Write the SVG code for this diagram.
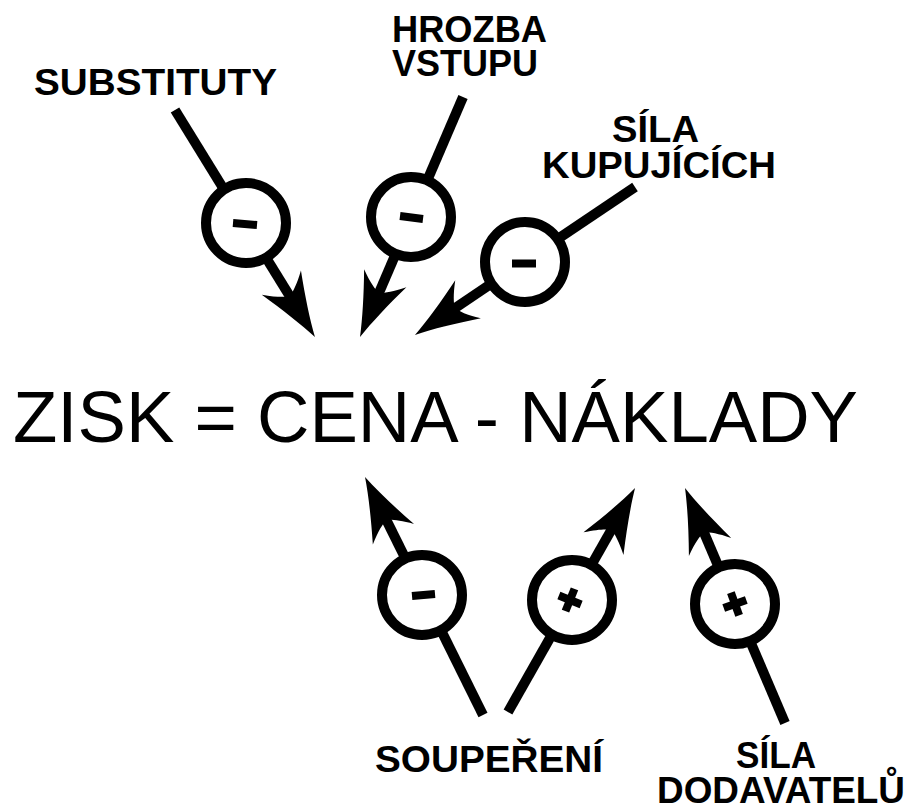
<svg xmlns="http://www.w3.org/2000/svg" width="907" height="810" viewBox="0 0 907 810">
  <style>
    .lbl { font-family: "Liberation Sans", Arial, sans-serif; font-weight: bold; font-size: 36px; fill: #000; }
    .main { font-family: "Liberation Sans", Arial, sans-serif; font-size: 72px; fill: #000; }
    .ring { fill: #fff; stroke: #000; stroke-width: 10; }
    .sign { stroke: #000; stroke-width: 8; stroke-linecap: butt; fill: none; }
    .edge { stroke: #000; stroke-width: 10; stroke-linecap: butt; fill: none; marker-end: url(#head); }
  </style>
  <defs>
    <!-- swept arrowhead: notch at x=0, tip at x=48 -->
    <marker id="head" markerUnits="userSpaceOnUse" orient="auto" refX="10" refY="0"
            markerWidth="80" markerHeight="60" viewBox="-20 -30 80 60" overflow="visible">
      <path d="M48,0 C30,5 8,13 -16,23 C-6,12 -2,5 0,0 C-2,-5 -6,-12 -16,-23 C8,-13 30,-5 48,0 Z" fill="#000"/>
    </marker>
  </defs>

  <rect width="907" height="810" fill="#fff"/>

  <!-- connectors: each runs from a label, through its circle, to the equation -->
  <g id="connectors">
    <line class="edge" x1="175" y1="110" x2="295" y2="304.7"/>
    <line class="edge" x1="463" y1="97" x2="375" y2="302.1"/>
    <line class="edge" x1="635" y1="187" x2="446.5" y2="313.8"/>
    <line class="edge" x1="483" y1="715" x2="381.9" y2="511"/>
    <line class="edge" x1="508" y1="712" x2="616.3" y2="521.1"/>
    <line class="edge" x1="785" y1="723" x2="699.9" y2="523"/>
  </g>

  <!-- central equation -->
  <g id="equation">
    <text class="main" x="13" y="442" textLength="845" lengthAdjust="spacingAndGlyphs">ZISK = CENA - NÁKLADY</text>
  </g>

  <!-- threat of substitutes -->
  <g id="substituty">
    <text class="lbl" x="34" y="95" textLength="243" lengthAdjust="spacingAndGlyphs">SUBSTITUTY</text>
    <circle class="ring" cx="246" cy="223" r="40"/>
    <line class="sign" x1="233" y1="223" x2="257" y2="225" />
  </g>

  <!-- threat of new entrants -->
  <g id="hrozba-vstupu">
    <text class="lbl" x="392" y="42" textLength="155" lengthAdjust="spacingAndGlyphs">HROZBA</text>
    <text class="lbl" x="392" y="76" textLength="146" lengthAdjust="spacingAndGlyphs">VSTUPU</text>
    <circle class="ring" cx="411" cy="217" r="40"/>
    <line class="sign" x1="400" y1="216" x2="423" y2="219" />
  </g>

  <!-- bargaining power of buyers -->
  <g id="sila-kupujicich">
    <text class="lbl" x="612" y="142" textLength="87" lengthAdjust="spacingAndGlyphs">SÍLA</text>
    <text class="lbl" x="542" y="178" textLength="234" lengthAdjust="spacingAndGlyphs">KUPUJÍCÍCH</text>
    <circle class="ring" cx="525" cy="262" r="40"/>
    <line class="sign" x1="512" y1="263.5" x2="536" y2="263.5" />
  </g>

  <!-- rivalry -->
  <g id="souperení">
    <text class="lbl" x="375" y="772" textLength="228" lengthAdjust="spacingAndGlyphs">SOUPEŘENÍ</text>
    <circle class="ring" cx="422" cy="595" r="40"/>
    <line class="sign" x1="412" y1="596" x2="435" y2="594" />
    <circle class="ring" cx="572" cy="600" r="40"/>
    <g transform="translate(570 600) rotate(22)">
      <line class="sign" x1="-12" y1="0" x2="12" y2="0" stroke-width="7"/>
      <line class="sign" x1="0" y1="-12" x2="0" y2="12" stroke-width="7"/>
    </g>
  </g>

  <!-- bargaining power of suppliers -->
  <g id="sila-dodavatelu">
    <text class="lbl" x="736" y="768" textLength="80" lengthAdjust="spacingAndGlyphs">SÍLA</text>
    <text class="lbl" x="657" y="803" textLength="248" lengthAdjust="spacingAndGlyphs">DODAVATELŮ</text>
    <circle class="ring" cx="735" cy="604" r="40"/>
    <g transform="translate(735 604) rotate(-20)">
      <line class="sign" x1="-12" y1="0" x2="12" y2="0" stroke-width="7"/>
      <line class="sign" x1="0" y1="-12" x2="0" y2="12" stroke-width="7"/>
    </g>
  </g>
</svg>
